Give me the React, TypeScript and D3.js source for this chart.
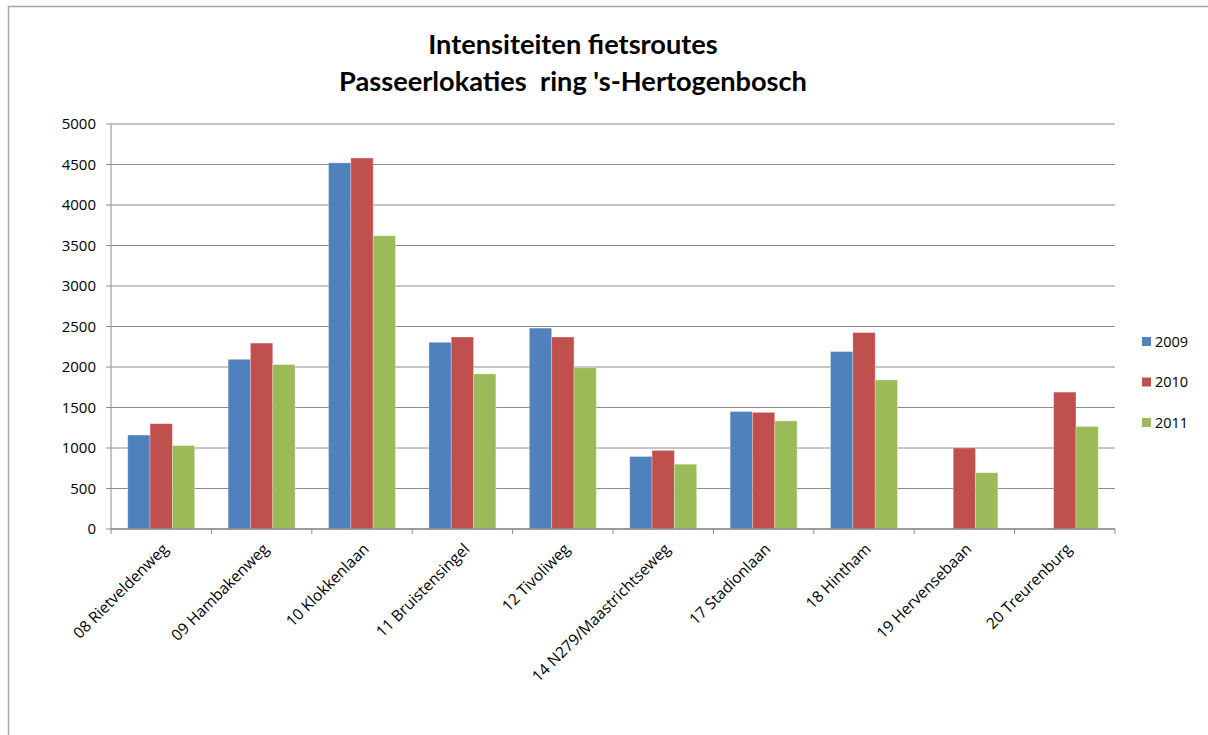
import React from "react";
import * as d3 from "d3";

const categories = [
  "08 Rietveldenweg",
  "09 Hambakenweg",
  "10 Klokkenlaan",
  "11 Bruistensingel",
  "12 Tivoliweg",
  "14 N279/Maastrichtseweg",
  "17 Stadionlaan",
  "18 Hintham",
  "19 Hervensebaan",
  "20 Treurenburg",
];
const seriesNames = ["2009", "2010", "2011"];
const values2009: (number | null)[] = [1160, 2095, 4520, 2305, 2480, 895, 1450, 2190, null, null];
const values2010: (number | null)[] = [1300, 2295, 4580, 2370, 2370, 970, 1440, 2425, 1000, 1690];
const values2011: (number | null)[] = [1030, 2030, 3620, 1915, 1990, 800, 1335, 1840, 695, 1265];
const yTicks = [0, 500, 1000, 1500, 2000, 2500, 3000, 3500, 4000, 4500, 5000];
const colors = ["#4F81BD", "#C0504D", "#9BBB59"];
const titleLines = ["Intensiteiten fietsroutes", "Passeerlokaties  ring 's-Hertogenbosch"];

const W = 1208;
const H = 735;
const plot = { left: 111, right: 1115, top: 124, bottom: 529 };
const font = "'Open Sans', 'Liberation Sans', sans-serif";

export default function App() {
  const allSeries = [values2009, values2010, values2011];
  const x = d3.scaleBand<string>().domain(categories).range([plot.left, plot.right]).paddingInner(0).paddingOuter(0);
  const y = d3.scaleLinear().domain([0, 5000]).range([plot.bottom, plot.top]);
  const bw = x.bandwidth() / 4.5;
  const inner = d3.scaleBand<string>().domain(seriesNames).range([0, bw * 3]);
  const boundaries = categories.map((c) => x(c) as number).concat([plot.right]);

  return (
    <svg
      width={W}
      height={H}
      style={{ position: "absolute", left: 0, top: 0, background: "#fff" }}
      fontFamily={font}
    >
      <rect x={0} y={0} width={W} height={H} fill="#fff" />
      {/* outer chart border */}
      <path d={`M8.5,${H} V6.5 H${W}`} fill="none" stroke="#a6a6a6" strokeWidth={1.5} />

      {/* title */}
      {titleLines.map((t, i) => (
        <text
          key={i}
          x={573}
          y={54 + i * 37}
          textAnchor="middle"
          fontFamily="Lato, 'Open Sans', sans-serif"
          fontWeight="bold"
          fontSize={27.2}
          fill="#000"
          style={{ whiteSpace: "pre" }}
        >
          {t}
        </text>
      ))}

      {/* gridlines */}
      {yTicks.map((t) => (
        <line key={t} x1={plot.left} x2={plot.right} y1={y(t)} y2={y(t)} stroke="#8c8c8c" strokeWidth={1} />
      ))}

      {/* y axis */}
      <line x1={plot.left} x2={plot.left} y1={plot.top} y2={plot.bottom} stroke="#8c8c8c" strokeWidth={1} />
      {yTicks.map((t) => (
        <g key={"yt" + t}>
          <line x1={plot.left - 5} x2={plot.left} y1={y(t)} y2={y(t)} stroke="#8c8c8c" />
          <text x={96} y={y(t)} dy="0.36em" textAnchor="end" fontSize={15} fill="#000">
            {t}
          </text>
        </g>
      ))}

      {/* bars */}
      {allSeries.map((vals, si) =>
        vals.map((v, ci) => {
          if (v == null) return null;
          const cx = (x(categories[ci]) as number) + x.bandwidth() / 2 - bw * 1.5;
          const bx = cx + (inner(seriesNames[si]) as number);
          return (
            <rect
              key={si + "-" + ci}
              x={bx}
              y={y(v)}
              width={bw}
              height={y(0) - y(v)}
              fill={colors[si]}
              stroke="rgba(255,255,255,0.35)"
              strokeWidth={0.8}
            />
          );
        })
      )}

      {/* x axis */}
      <line x1={plot.left} x2={plot.right} y1={plot.bottom} y2={plot.bottom} stroke="#8c8c8c" strokeWidth={1.5} />
      {boundaries.map((b, i) => (
        <line key={"xt" + i} x1={b} x2={b} y1={plot.bottom} y2={plot.bottom + 5} stroke="#8c8c8c" />
      ))}
      {categories.map((c) => {
        const cx = (x(c) as number) + x.bandwidth() / 2;
        return (
          <text
            key={c}
            transform={`translate(${cx + 8},${plot.bottom + 21}) rotate(-45)`}
            textAnchor="end"
            fontSize={15.5}
            fill="#000"
          >
            {c}
          </text>
        );
      })}

      {/* legend */}
      {seriesNames.map((s, i) => (
        <g key={s}>
          <rect x={1142} y={337 + i * 40.5} width={9} height={9} fill={colors[i]} />
          <text x={1155} y={341.5 + i * 40.5} dy="0.36em" fontSize={14.5} fill="#000">
            {s}
          </text>
        </g>
      ))}
    </svg>
  );
}
